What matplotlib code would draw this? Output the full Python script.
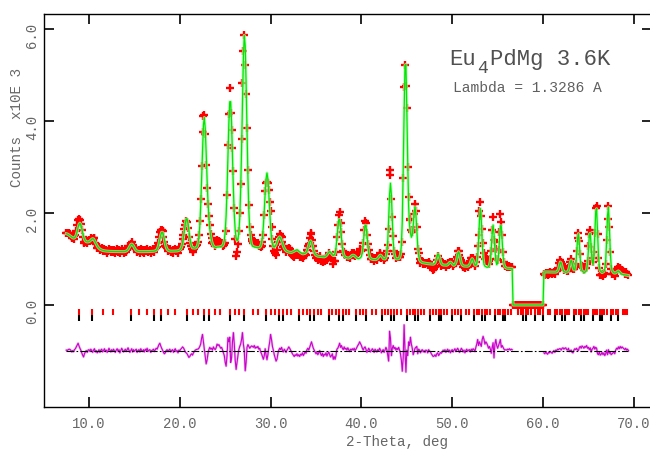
import numpy as np
import matplotlib.pyplot as plt

plt.rcParams['font.family'] = ['Liberation Mono', 'DejaVu Sans Mono']

# Rietveld fit, Eu4PdMg at 3.6 K, neutron data (lambda = 1.3286 A)
tth_start = 7.5          # first 2-theta point, deg
tth_step = 0.1           # scan step, deg
excl_lo, excl_hi = 56.65, 60.05   # excluded 2-theta range

# calculated profile, counts (rows = one degree each)
ycalc = [
    1550, 1545, 1535, 1520, 1505,                                       # 7.5
    1490, 1473, 1462, 1454, 1460, 1482, 1528, 1600, 1685, 1755,          # 8
    1780, 1745, 1665, 1571, 1488, 1430, 1395, 1376, 1372, 1372,          # 9
    1376, 1391, 1412, 1431, 1442, 1436, 1402, 1363, 1323, 1286,          # 10
    1257, 1236, 1215, 1205, 1195, 1188, 1182, 1178, 1175, 1172,          # 11
    1170, 1168, 1167, 1166, 1165, 1165, 1164, 1164, 1163, 1163,          # 12
    1162, 1162, 1161, 1161, 1161, 1160, 1160, 1160, 1160, 1160,          # 13
    1166, 1173, 1186, 1209, 1243, 1281, 1312, 1325, 1312, 1281,          # 14
    1243, 1209, 1186, 1173, 1166, 1161, 1160, 1160, 1160, 1160,          # 15
    1160, 1160, 1160, 1160, 1161, 1161, 1162, 1163, 1164, 1165,          # 16
    1166, 1168, 1172, 1177, 1188, 1212, 1258, 1332, 1426, 1519,          # 17
    1580, 1580, 1519, 1426, 1333, 1260, 1214, 1191, 1180, 1175,          # 18
    1170, 1170, 1170, 1171, 1172, 1173, 1174, 1175, 1181, 1187,          # 19
    1198, 1218, 1260, 1338, 1459, 1614, 1769, 1870, 1872, 1775,          # 20
    1624, 1473, 1355, 1280, 1241, 1241, 1237, 1238, 1245, 1269,          # 21
    1330, 1461, 1720, 2152, 2752, 3403, 3911, 4076, 3835, 3324,          # 22
    2749, 2260, 1902, 1660, 1499, 1392, 1325, 1284, 1266, 1254,          # 23
    1248, 1259, 1259, 1261, 1264, 1268, 1276, 1289, 1325, 1408,          # 24
    1598, 1946, 2493, 3195, 3950, 4420, 4420, 3960, 3209, 2511,          # 25
    1969, 1628, 1456, 1398, 1431, 1574, 1897, 2485, 3365, 4423,          # 26
    5378, 5862, 5644, 4831, 3768, 2788, 2074, 1645, 1422, 1324,          # 27
    1283, 1270, 1263, 1258, 1254, 1251, 1244, 1246, 1255, 1281,          # 28
    1345, 1479, 1712, 2048, 2431, 2745, 2871, 2742, 2417, 2030,          # 29
    1690, 1452, 1326, 1269, 1260, 1278, 1317, 1371, 1425, 1467,          # 30
    1482, 1461, 1407, 1347, 1287, 1238, 1204, 1180, 1166, 1157,          # 31
    1150, 1147, 1145, 1142, 1151, 1158, 1170, 1183, 1194, 1197,          # 32
    1189, 1174, 1156, 1140, 1128, 1115, 1113, 1118, 1124, 1141,          # 33
    1172, 1233, 1307, 1372, 1396, 1365, 1293, 1212, 1144, 1105,          # 34
    1081, 1071, 1061, 1059, 1057, 1055, 1053, 1051, 1049, 1047,          # 35
    1054, 1066, 1088, 1119, 1148, 1160, 1146, 1122, 1092, 1075,          # 36
    1082, 1128, 1245, 1440, 1669, 1854, 1862, 1708, 1469, 1264,          # 37
    1135, 1068, 1042, 1032, 1028, 1020, 1019, 1030, 1043, 1066,          # 38
    1078, 1084, 1076, 1062, 1037, 1022, 1009, 1007, 1016, 1027,          # 39
    1058, 1143, 1325, 1552, 1733, 1732, 1549, 1320, 1136, 1049,          # 40
    1013, 1000, 995, 989, 988, 988, 987, 999, 1016, 1044,                # 41
    1072, 1084, 1070, 1040, 1011, 1004, 1002, 1032, 1136, 1395,          # 42
    1863, 2398, 2648, 2396, 1859, 1389, 1128, 1039, 1010, 1001,          # 43
    1004, 1007, 1028, 1099, 1299, 1815, 2913, 4169, 5213, 5231,          # 44
    4253, 3106, 2145, 1735, 1563, 1473, 1522, 1715, 2001, 2135,          # 45
    1963, 1606, 1287, 1081, 986, 950, 936, 921, 917, 914,                # 46
    911, 903, 901, 899, 897, 895, 893, 891, 889, 887,                    # 47
    895, 915, 964, 1043, 1108, 1107, 1038, 957, 904, 882,                # 48
    870, 869, 868, 867, 866, 876, 899, 922, 932, 920,                    # 49
    895, 870, 864, 880, 923, 1008, 1109, 1158, 1107, 1004,               # 50
    917, 872, 854, 847, 846, 845, 844, 843, 852, 874,                    # 51
    920, 979, 1008, 977, 916, 868, 864, 890, 1032, 1396,                 # 52
    1846, 2099, 1844, 1392, 1026, 882, 844, 833, 822, 821,               # 53
    835, 861, 964, 1229, 1556, 1740, 1554, 1225, 969, 878,               # 54
    909, 1079, 1405, 1723, 1722, 1402, 1066, 887, 827, 812,              # 55
    800, 799, 798, 797, 796, 795, 794, 0, 0, 0,                          # 56
    0, 0, 0, 0, 0, 0, 0, 0, 0, 0,                                        # 57
    0, 0, 0, 0, 0, 0, 0, 0, 0, 0,                                        # 58
    0, 0, 0, 0, 0, 0, 0, 0, 0, 0,                                        # 59
    0, 720, 720, 719, 719, 718, 718, 717, 717, 716,                      # 60
    716, 716, 716, 715, 715, 721, 737, 785, 865, 935,                    # 61
    914, 831, 759, 726, 717, 713, 713, 723, 749, 821,                    # 62
    921, 977, 921, 820, 762, 766, 864, 1119, 1441, 1552,                 # 63
    1322, 999, 804, 737, 721, 709, 709, 726, 767, 902,                   # 64
    1201, 1518, 1561, 1273, 983, 880, 1045, 1518, 2022, 2093,            # 65
    1606, 1105, 831, 741, 722, 704, 715, 728, 778, 961,                  # 66
    1393, 1940, 2128, 1738, 1191, 859, 745, 720, 697, 694,               # 67
    698, 712, 731, 741, 725, 700, 679, 667, 663, 659,                    # 68
    655, 651, 647, 644, 640,                                             # 69
]

# observed minus calculated, counts
ydiff = [
    20, 10, 30, 40, 35,
    15, -20, 10, -15, 30, 50, 90, 130, 170, 110,
    60, 20, -40, -90, -130, -60, -20, 10, -30, 20,
    30, -10, 40, 10, -30, 20, 50, -20, 10, -40,
    -10, 30, -30, 20, 40, -20, 10, 50, -10, 20,
    -30, 10, 60, 20, -20, 30, -10, 40, 0, -30,
    20, 50, -10, 30, -40, 10, 60, 20, -20, 10,
    40, -10, 30, 70, 20, -30, 10, 50, -20, 30,
    -10, 20, 40, -30, 10, 30, -20, 50, 10, -10,
    30, -20, 40, 10, 60, -10, 20, 30, -30, 10,
    20, 40, -10, 30, 60, 40, 90, 140, 170, 110,
    60, 20, -30, -60, -40, 10, 30, -10, 20, 40,
    -20, 10, 30, -30, 20, 50, -10, 10, -40, 20,
    10, 40, 60, 90, 70, 30, -20, -40, -60, -100,
    -140, -120, -80, -60, -90, -40, -10, 20, 30, 40,
    40, 60, 100, 150, 280, 360, 200, 50, -120, -280,
    -200, -60, 30, 80, 40, 60, 20, 90, 50, 30,
    70, 150, 120, 140, 100, 60, 80, 30, -40, -100,
    -250, -330, -100, 290, 200, 300, -250, -150, 200, 400,
    150, -200, -400, -250, -100, 30, 100, 150, 250, 400,
    150, 10, -430, -250, 80, 140, 100, 60, 90, 110,
    100, 80, 120, 60, 90, 70, 100, 40, 60, -20,
    -60, -120, -180, -100, 50, -90, -190, -80, 80, 200,
    360, 250, 100, 20, -80, -150, -220, -180, -60, 20,
    60, 30, 80, 20, -20, 40, 10, -30, 20, 50,
    90, 60, 20, -20, -60, -90, -120, -80, -100, -60,
    -110, -80, -120, -70, -90, -40, -100, -60, -20, -50,
    30, 60, 20, 80, 140, 200, 130, 60, 20, -20,
    -60, -30, -80, -40, 10, -60, -100, -50, -120, -70,
    -90, -40, -110, -60, -20, -80, -130, -100, -60, -180,
    -120, -180, -100, 40, 60, 110, 170, 80, 120, 60,
    30, 90, 40, 60, 20, 70, 30, -10, 40, 20,
    50, 20, 60, 10, 40, 80, 120, 150, 200, 160,
    120, 60, 20, 70, 90, 40, -30, 10, 60, 30,
    -20, 10, 50, 20, -30, 40, 10, -20, 30, 0,
    60, 20, -40, 10, 30, -30, 20, 80, 30, -100,
    -220, 430, 280, -100, 60, 120, 50, 80, 20, 60,
    30, 80, 20, -60, -200, -440, -150, 570, 10, -460,
    20, -100, 200, 120, 300, 150, 60, -80, -20, 60,
    80, 100, -60, 40, 20, -40, 10, 30, -20, 10,
    -30, 20, 10, -40, 30, 0, -20, -60, -90, -120,
    -110, -80, -120, -60, -40, -100, -70, -30, -50, -20,
    20, -10, 30, -30, 10, 40, -20, 20, -40, 10,
    30, -20, 20, 50, -10, 30, 60, 20, -30, 10,
    60, 30, -20, 20, -40, 10, 40, -10, 20, 30,
    -20, 40, 10, 50, 30, -10, 80, 150, 250, 120,
    200, 150, 100, 250, 320, 250, 150, 200, 170, 120,
    60, 100, 40, -50, 80, 180, -150, 150, 250, 120,
    60, 120, 180, 250, 80, 120, 80, 40, 20, 30,
    20, 40, 30, 50, 20, 40, 30, 0, 0, 0,
    0, 0, 0, 0, 0, 0, 0, 0, 0, 0,
    0, 0, 0, 0, 0, 0, 0, 0, 0, 0,
    0, 0, 0, 0, 0, 0, 0, 0, 0, 0,
    0, -40, -60, -20, -50, -70, -30, -40, -10, -30,
    -50, -20, 10, -30, 20, 10, 40, 30, 50, 50,
    20, 60, 70, 40, 60, 70, 30, 20, 60, -10,
    10, 20, -30, -40, 20, 50, 30, 60, 20, 10,
    80, 100, 60, 110, 90, 60, 100, 80, 120, 60,
    80, 30, 70, -20, 40, 60, 100, 40, 80, 60,
    -60, -80, -20, -90, -70, -30, -80, -40, -100, -60,
    20, -80, 30, -50, -30, -80, -60, -40, -30, -60,
    20, 60, 40, 90, 50, 100, 60, 90, 70, 50,
    30, 60, 20, 40, 10,
]

# reflection positions (deg): magnetic phase, all hkl
refl_mag = [
    8.95, 10.34, 11.57, 12.68, 14.65, 15.54, 16.39, 17.19, 17.97, 18.70,
    19.42, 20.77, 21.42, 22.05, 22.66, 23.26, 23.84, 24.41, 25.51, 26.05,
    26.57, 27.09, 28.09, 28.58, 29.54, 30.01, 30.47, 30.93, 31.38, 31.82,
    32.26, 33.12, 33.55, 33.97, 34.38, 34.79, 35.20, 35.60, 36.39, 36.78,
    37.17, 37.55, 37.93, 38.31, 38.68, 39.42, 39.79, 40.15, 40.51, 41.22,
    41.57, 42.27, 42.62, 42.96, 43.30, 43.64, 43.97, 44.31, 44.97, 45.30,
    45.63, 45.95, 46.27, 46.59, 46.91, 47.55, 47.86, 48.18, 48.49, 48.80,
    49.11, 49.41, 50.02, 50.33, 50.63, 50.93, 51.53, 51.82, 52.41, 52.71,
    53.00, 53.29, 53.58, 53.87, 54.15, 54.73, 55.01, 55.30, 55.58, 55.86,
    56.14, 56.42, 57.26, 57.53, 57.81, 58.08, 58.36, 58.63, 59.17, 59.44,
    59.71, 59.98, 60.52, 60.79, 61.32, 61.58, 61.85, 62.11, 62.37, 62.64,
    62.90, 63.42, 63.68, 63.94, 64.20, 64.46, 64.71, 64.97, 65.48, 65.74,
    65.99, 66.25, 66.50, 66.76, 67.01, 67.51, 67.76, 68.02, 68.27, 68.77,
    69.02, 69.27,
]
# nuclear phase, F-centred cubic
refl_nuc = [
    8.95, 10.34, 14.65, 17.19, 17.97, 20.77, 22.66, 23.26, 25.51, 27.09,
    29.54, 30.93, 31.38, 33.12, 34.38, 34.79, 36.39, 37.55, 37.93, 39.42,
    40.51, 42.27, 43.30, 43.64, 44.97, 45.95, 46.27, 47.55, 48.49, 48.80,
    50.02, 50.93, 52.41, 53.29, 53.58, 54.73, 55.58, 55.86, 57.81, 58.08,
    59.17, 59.98, 61.32, 62.11, 62.37, 63.42, 64.20, 64.46, 65.48, 66.25,
    66.50, 67.51, 68.27,
]

ycalc = np.array(ycalc, dtype=float)
ydiff = np.array(ydiff, dtype=float)
tth = np.round(tth_start + tth_step * np.arange(len(ycalc)), 2)
yobs = ycalc + ydiff
excl = (tth > excl_lo) & (tth < excl_hi)

scale = 1000.0      # plot in units of 10^3 counts
diff_off = -1.0     # where the difference curve sits

fig = plt.figure(figsize=(6.5, 4.49), dpi=100)
ax = fig.add_axes([43.6 / 650, 42 / 449, 608.4 / 650, 393 / 449])

# observed points, calc curve
ax.plot(tth, yobs / scale, '+', color='red', ms=5.2, mew=1.7, zorder=2)
ax.plot(tth, ycalc / scale, color='#a8ffa8', lw=2.2, alpha=0.75, zorder=3)
ax.plot(tth, ycalc / scale, color='#00e600', lw=0.9, zorder=4)

# difference curve (not drawn over the excluded range)
dplot = np.where(excl, np.nan, ydiff) / scale + diff_off
ax.plot(tth, dplot, color='#eebbee', lw=1.7, zorder=3)
ax.plot(tth, dplot, color='#cc00cc', lw=0.8, zorder=4)
ax.hlines(diff_off, tth[0], tth[-1], color='black', lw=0.8,
          linestyles=[(0, (7, 2, 1.5, 2))], zorder=5)

# reflection markers
ax.vlines(refl_mag, -0.087, -0.217, color='red', lw=1.5)
ax.vlines(refl_nuc, -0.217, -0.348, color='black', lw=1.5)

ax.set_xlim(5.0, 72.0)
ax.set_ylim(-2.217, 6.326)

xt = [10, 20, 30, 40, 50, 60, 70]
ax.set_xticks(xt)
ax.set_xticklabels(['%.1f' % v for v in xt])
yt = [0, 2, 4, 6]
ax.set_yticks(yt)
ax.set_yticklabels([])
ax.tick_params(direction='in', length=7, width=1.2, top=True, right=True,
               labelsize=10, labelcolor='#666666')
ax.tick_params(axis='x', pad=7)
for s in ax.spines.values():
    s.set_linewidth(1.0)

for v in yt:
    ax.annotate('%.1f' % v, xy=(0, v), xycoords=('axes fraction', 'data'),
                xytext=(-3, -4.5), textcoords='offset points', rotation=90,
                ha='right', va='center', fontsize=10, color='#666666')

txt = '#505050'
fig.text(449 / 650, 1 - 65 / 449, 'Eu', fontsize=16, color=txt, va='baseline')
fig.text(477 / 650, 1 - 73 / 449, '4', fontsize=13, color=txt, va='baseline')
fig.text(490 / 650, 1 - 65 / 449, 'PdMg 3.6K', fontsize=16, color=txt, va='baseline')
fig.text(453 / 650, 1 - 91.7 / 449, 'Lambda = 1.3286 A', fontsize=10.5,
         color='#606060', va='baseline')

fig.text(17 / 650, 1 - 127 / 449, 'Counts  x10E 3', rotation=90, ha='center',
         va='center', fontsize=10.3, color='#666666')
fig.text(346 / 650, 3 / 449, '2-Theta, deg', fontsize=10.3, color='#666666',
         va='baseline')

fig.savefig('out.png', dpi=100)
